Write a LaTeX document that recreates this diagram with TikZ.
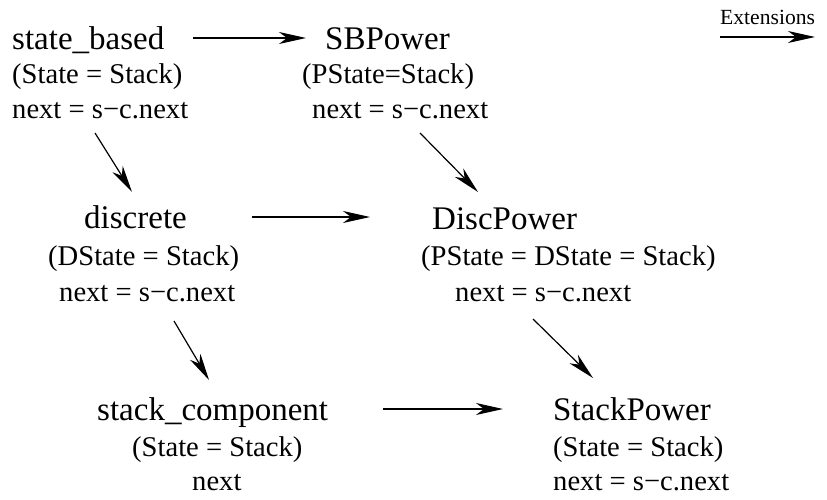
\documentclass[tikz,border=0pt]{standalone}
\usepackage{fontspec}
\setmainfont{Liberation Serif}
\usetikzlibrary{arrows.meta,calc}

\tikzset{
  title/.style={font=\fontsize{33}{36}\selectfont, anchor=base west, inner sep=0pt},
  sub/.style={font=\fontsize{28.6}{32}\selectfont, anchor=base west, inner sep=0pt},
  small/.style={font=\fontsize{21.6}{24}\selectfont, anchor=base west, inner sep=0pt},
  arr/.style={-{Stealth[length=27pt,width=12pt,inset=8pt]}, line width=1.2pt},
}

\begin{document}
\begin{tikzpicture}[x=1pt,y=-1pt]
\useasboundingbox (0,0) rectangle (827,500);

% top row
\node[title] (sb)   at (12,50)  {state\_based};
\node[sub]   (sbS)  at (12,84)  {(State = Stack)};
\node[sub]   (sbN)  at (12,119) {next = s−c.next};

\node[title] (sbp)  at (325,50)  {SBPower};
\node[sub]   (sbpS) at (302,84)  {(PState=Stack)};
\node[sub]   (sbpN) at (312,119) {next = s−c.next};

\node[small] (ext)  at (720,25) {Extensions};

% middle row
\node[title] (disc)  at (84,228) {discrete};
\node[sub]   (discS) at (48,265) {(DState = Stack)};
\node[sub]   (discN) at (59,301) {next = s−c.next};

\node[title] (dp)  at (432,229) {DiscPower};
\node[sub]   (dpS) at (421,265) {(PState = DState = Stack)};
\node[sub]   (dpN) at (455,301) {next = s−c.next};

% bottom row
\node[title] (sc)  at (97,420)  {stack\_component};
\node[sub]   (scS) at (132,456) {(State = Stack)};
\node[sub]   (scN) at (192,490) {next};

\node[title] (stp)  at (553,420) {StackPower};
\node[sub]   (stpS) at (553,456) {(State = Stack)};
\node[sub]   (stpN) at (553,490) {next = s−c.next};

% extension arrows
\draw[arr] ($(ext.base west)+(0,12)$) -- ($(ext.base west)+(95,12)$);
\draw[arr] ($(sb.base west)+(181,-12)$) -- ($(sbp.base west)+(-19,-12)$);
\draw[arr] ($(disc.base west)+(168,-11)$) -- ($(dp.base west)+(-62,-12)$);
\draw[arr] ($(sc.base west)+(286,-11)$) -- ($(stp.base west)+(-50,-11)$);

% refinement arrows
\draw[arr] ($(sbN.base west)+(83,14)$) -- ($(disc.base west)+(48,-36)$);
\draw[arr] ($(sbpN.base west)+(108,14)$) -- ($(dp.base west)+(46,-37)$);
\draw[arr] ($(discN.base west)+(115,20)$) -- ($(sc.base west)+(112,-40)$);
\draw[arr] ($(dpN.base west)+(78,18)$) -- ($(stp.base west)+(40,-42)$);
\end{tikzpicture}
\end{document}
